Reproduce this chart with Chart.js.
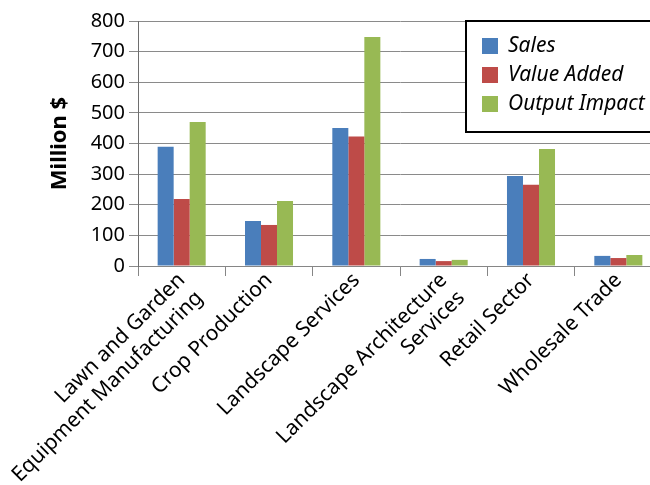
<!DOCTYPE html>
<html>
<head>
<meta charset="utf-8">
<script src="https://cdn.jsdelivr.net/npm/chart.js@4.4.1/dist/chart.umd.min.js"></script>
<style>
  html, body { margin: 0; padding: 0; background: #fff; overflow: hidden; }
  #wrap { width: 665px; height: 485px; }
</style>
</head>
<body>
<div id="wrap"><canvas id="chart-impact"></canvas></div>
<script>
const categories = [
    ["Lawn and Garden", "Equipment Manufacturing"],
    "Crop Production",
    "Landscape Services",
    ["Landscape Architecture", "Services"],
    "Retail Sector",
    "Wholesale Trade",
];
const sales = [389, 147, 451, 23, 294, 33];
const valueAdded = [219, 134, 423, 16, 265, 26];
const outputImpact = [470, 212, 748, 20, 382, 36];
const yTicks = [0, 100, 200, 300, 400, 500, 600, 700, 800];

const FONT = "'Noto Sans', 'Open Sans', sans-serif";

// legend box drawn inside the plot, like the original
const boxLegend = {
    id: "boxLegend",
    afterDraw(chart) {
        const ctx = chart.ctx;
        const x = 466, y = 21, w = 210, h = 111;
        ctx.save();
        ctx.fillStyle = "#fff";
        ctx.fillRect(x, y, w, h);
        ctx.lineWidth = 2;
        ctx.strokeStyle = "#000";
        ctx.strokeRect(x, y, w, h);
        ctx.font = "italic 21px " + FONT;
        ctx.textBaseline = "middle";
        chart.data.datasets.forEach((ds, i) => {
            const cy = 46 + i * 29;
            ctx.fillStyle = ds.backgroundColor;
            ctx.fillRect(482, cy - 8, 16, 16);
            ctx.fillStyle = "#000";
            ctx.fillText(ds.label, 508, cy);
        });
        ctx.restore();
    },
};

const dataImpact = {
    labels: categories,
    datasets: [
        { label: "Sales", data: sales, backgroundColor: "#4a7ebb" },
        { label: "Value Added", data: valueAdded, backgroundColor: "#be4b48" },
        { label: "Output Impact", data: outputImpact, backgroundColor: "#98b954" },
    ],
};

const configImpact = {
    type: "bar",
    data: dataImpact,
    options: {
        responsive: true,
        maintainAspectRatio: false,
        animation: false,
        layout: { padding: { top: 21, right: 3, left: 0, bottom: 0 } },
        datasets: {
            bar: { barPercentage: 1, categoryPercentage: 0.55, borderWidth: 0 },
        },
        plugins: {
            legend: { display: false },
            tooltip: { enabled: false },
        },
        scales: {
            x: {
                afterFit(scale) {
                    scale.height = 485 - 266;
                    // let the long first label run off to the left, as in the original
                    scale.paddingLeft = 0;
                    scale.paddingRight = 0;
                },
                grid: {
                    offset: true,
                    drawOnChartArea: false,
                    drawTicks: true,
                    tickLength: 10,
                    color: "#868686",
                },
                border: { display: true, color: "#868686" },
                ticks: {
                    color: "#000",
                    font: { family: FONT, size: 21 },
                    maxRotation: 45,
                    minRotation: 45,
                    autoSkip: false,
                    padding: -8,
                },
            },
            y: {
                min: 0,
                max: 800,
                afterFit(scale) { scale.width = 138; },
                afterBuildTicks(scale) { scale.ticks = yTicks.map((v) => ({ value: v })); },
                grid: { color: "#8a8a8a", tickLength: 9 },
                border: { display: true, color: "#6e6e6e" },
                ticks: {
                    color: "#000",
                    font: { family: FONT, size: 20 },
                    padding: 4,
                },
                title: {
                    display: true,
                    text: "Million $",
                    color: "#000",
                    font: { family: FONT, size: 22, weight: "bold" },
                    padding: { top: 47, bottom: 0 },
                },
            },
        },
    },
    plugins: [boxLegend],
};

new Chart(document.getElementById("chart-impact"), configImpact);
</script>
</body>
</html>
